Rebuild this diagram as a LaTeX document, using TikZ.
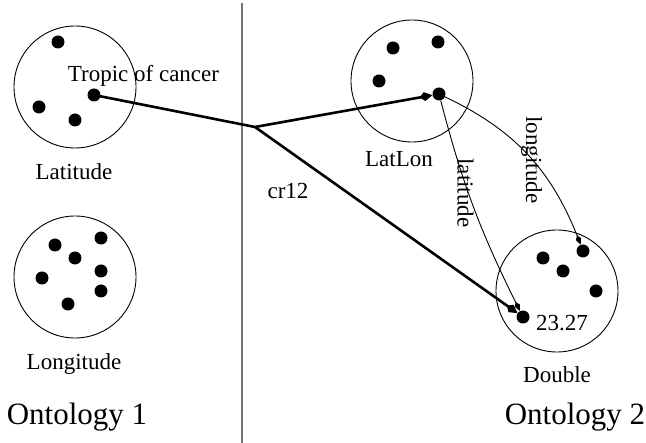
\documentclass[tikz,border=0pt]{standalone}
\usepackage{fontspec}
\setmainfont{Liberation Serif}
\usetikzlibrary{arrows.meta,bending}

\tikzset{
  setcircle/.style={circle,draw,line width=0.9pt,minimum size=122pt,inner sep=0pt},
  dot/.style={circle,fill=black,minimum size=13pt,inner sep=0pt},
  lbl/.style={font=\fontsize{23}{27}\selectfont,inner sep=0pt,anchor=base},
  bigl/.style={font=\fontsize{31}{36}\selectfont,inner sep=0pt,anchor=base},
  thickarrow/.style={line width=2.6pt,-{Kite[length=13pt,width=9pt,inset=5pt]}},
  thinarrow/.style={line width=0.9pt,-{Kite[length=10pt,width=5.5pt,inset=4pt]}},
  divider/.style={draw=black!55,line width=1.4pt}
}

\begin{document}
\begin{tikzpicture}[x=1pt,y=-1pt]
\useasboundingbox (0,0) rectangle (646,443);

% divider between the two ontologies
\coordinate (dtop) at (242,3);
\coordinate (dbot) at (242,443);
\draw[divider] (dtop) -- (dbot);

% Ontology 1: Latitude
\node[setcircle] (latc) at (75,87) {};
\node[dot] (la1) at (58,42) {};
\node[dot] (la2) at (94,95) {};
\node[dot] (la3) at (39,107) {};
\node[dot] (la4) at (75,120) {};
\node[lbl] (tropic) at (143.5,82) {Tropic of cancer};
\node[lbl] (latname) at (74,180) {Latitude};

% Ontology 1: Longitude
\node[setcircle] (lonc) at (75,277) {};
\node[dot] (lo1) at (55,245) {};
\node[dot] (lo2) at (101,238) {};
\node[dot] (lo3) at (75,258) {};
\node[dot] (lo4) at (42,278) {};
\node[dot] (lo5) at (101,271) {};
\node[dot] (lo6) at (101,291) {};
\node[dot] (lo7) at (68,304) {};
\node[lbl] (lonname) at (74,370) {Longitude};

\node[bigl] (onto1) at (77,425) {Ontology 1};

% Ontology 2: LatLon
\node[setcircle] (llc) at (412,81) {};
\node[dot] (ll1) at (393,48) {};
\node[dot] (ll2) at (438,42) {};
\node[dot] (ll3) at (379,81) {};
\node[dot] (ll4) at (439,94) {};
\node[lbl] (llname) at (399,167) {LatLon};

% Ontology 2: Double
\node[setcircle] (dbc) at (557,291) {};
\node[dot] (db1) at (543,258) {};
\node[dot] (db2) at (563,271) {};
\node[dot] (db3) at (583,251) {};
\node[dot] (db4) at (596,291) {};
\node[dot] (db5) at (523,317) {};
\node[lbl] (val) at (562,331) {23.27};
\node[lbl] (dbname) at (557,383) {Double};

\node[bigl] (onto2) at (575,425) {Ontology 2};

% correspondence cr12
\coordinate (j) at (255,127);
\draw[line width=2.6pt] (la2.center) -- (j);
\draw[thickarrow] (j) -- (ll4);
\draw[thickarrow] (j) -- (db5);
\node[lbl] (cr) at (288,199) {cr12};

% properties of LatLon
\draw[thinarrow] (ll4) to[bend left=22] (db3);
\draw[thinarrow] (ll4) to[bend right=6] (db5);
\node[lbl,rotate=-90] (lonlbl) at (526,160) {longitude};
\node[lbl,rotate=-90] (latlbl) at (457.5,193) {latitude};
\end{tikzpicture}
\end{document}
